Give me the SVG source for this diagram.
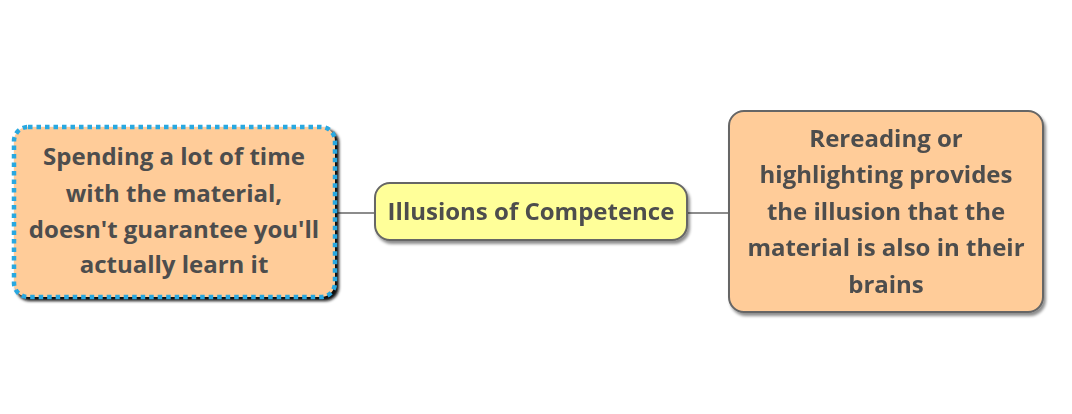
<svg xmlns="http://www.w3.org/2000/svg" width="1072" height="414" viewBox="0 0 1072 414">
<style>
.t{font-family:"Open Sans","Noto Sans",sans-serif;font-weight:bold;font-size:24px;fill:#4d4d4d;text-anchor:middle}
.c{stroke:#666;stroke-width:1.5;fill:none}
</style>
<defs>
<filter id="sh" x="-10%" y="-10%" width="130%" height="130%">
<feGaussianBlur in="SourceAlpha" stdDeviation="1.5"/>
<feOffset dx="2" dy="3" result="b"/>
<feComponentTransfer><feFuncA type="linear" slope="0.45"/></feComponentTransfer>
<feMerge><feMergeNode/><feMergeNode in="SourceGraphic"/></feMerge>
</filter>
<filter id="sh2" x="-10%" y="-10%" width="130%" height="130%">
<feGaussianBlur stdDeviation="1.5"/>
</filter>
</defs>
<rect width="1072" height="414" fill="#fff"/>
<g id="connectors">
<line class="c" x1="335" y1="213" x2="375" y2="213"/>
<line class="c" x1="687" y1="213" x2="728" y2="213"/>
</g>
<g id="left">
<rect x="16" y="129" width="323" height="172" rx="14" fill="#111" filter="url(#sh2)"/>
<rect x="14" y="127" width="321" height="170" rx="14" fill="#ffcc99" stroke="#29a8e0" stroke-width="4.5" stroke-dasharray="4.5 4"/>
<text class="t" x="174" y="165">Spending a lot of time</text>
<text class="t" x="174" y="202">with the material,</text>
<text class="t" x="174" y="238">doesn't guarantee you'll</text>
<text class="t" x="174" y="273">actually learn it</text>
</g>
<g id="center" filter="url(#sh)">
<rect x="375" y="183" width="312" height="57" rx="15" fill="#ffff99" stroke="#666" stroke-width="2"/>
<text class="t" x="531" y="220">Illusions of Competence</text>
</g>
<g id="right" filter="url(#sh)">
<rect x="729" y="111" width="314" height="201" rx="15" fill="#ffcc99" stroke="#666" stroke-width="2"/>
<text class="t" x="886" y="147">Rereading or</text>
<text class="t" x="886" y="183">highlighting provides</text>
<text class="t" x="886" y="220">the illusion that the</text>
<text class="t" x="886" y="256">material is also in their</text>
<text class="t" x="886" y="293">brains</text>
</g>
</svg>
